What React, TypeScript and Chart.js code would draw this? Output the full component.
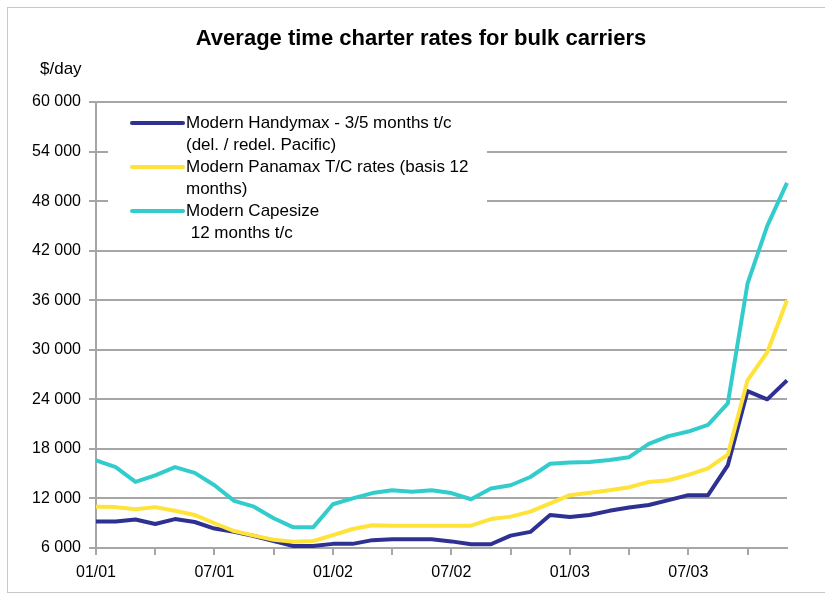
import { useEffect, useRef } from 'react';
import { Chart, registerables } from 'chart.js';

Chart.register(...registerables);

// Monthly observations, January 2001 to December 2003 (MM/YY)
const months = [
  '01/01', '02/01', '03/01', '04/01', '05/01', '06/01', '07/01', '08/01', '09/01', '10/01', '11/01', '12/01',
  '01/02', '02/02', '03/02', '04/02', '05/02', '06/02', '07/02', '08/02', '09/02', '10/02', '11/02', '12/02',
  '01/03', '02/03', '03/03', '04/03', '05/03', '06/03', '07/03', '08/03', '09/03', '10/03', '11/03', '12/03',
];

// $/day
const handymax = [
  9200, 9200, 9450, 8900, 9500, 9150, 8350, 7950, 7450, 6850, 6250, 6250,
  6500, 6500, 6950, 7050, 7050, 7050, 6800, 6450, 6450, 7500, 7950, 10000,
  9750, 10000, 10500, 10900, 11200, 11800, 12400, 12400, 16000, 25000, 24000, 26300,
];

const panamax = [
  11000, 10950, 10700, 10950, 10500, 10000, 9000, 8050, 7500, 7000, 6750, 6850,
  7550, 8300, 8750, 8700, 8700, 8700, 8700, 8700, 9500, 9800, 10400, 11400,
  12400, 12700, 13000, 13350, 14000, 14200, 14850, 15650, 17300, 26300, 29700, 36000,
];

const capesize = [
  16600, 15800, 14000, 14800, 15800, 15100, 13600, 11700, 11000, 9600, 8500, 8500,
  11300, 12000, 12650, 13000, 12800, 13000, 12650, 11900, 13200, 13600, 14600, 16200,
  16350, 16400, 16650, 17000, 18600, 19550, 20100, 20900, 23500, 38000, 45000, 50200,
];

const seriesNames = [
  ['Modern Handymax - 3/5 months t/c', '(del. / redel. Pacific)'],
  ['Modern Panamax T/C rates (basis 12', 'months)'],
  ['Modern Capesize', ' 12 months t/c'],
];
const seriesColors = ['#2f3192', '#ffe33a', '#33cccc'];

const chartTitle = 'Average time charter rates for bulk carriers';
const unitLabel = '$/day';

const FONT = 'Arial, "Liberation Sans", sans-serif';
const GRID = '#a6a6a6';

const formatThousands = (v: number) => String(v).replace(/\B(?=(\d{3})+(?!\d))/g, ' ');

// Title, unit caption and the boxed multi-line legend
const decorPlugin = {
  id: 'decor',
  afterDraw(chart: Chart) {
    const ctx = chart.ctx;
    ctx.save();
    ctx.fillStyle = '#000';
    ctx.textBaseline = 'middle';

    ctx.font = `bold 22px ${FONT}`;
    ctx.textAlign = 'center';
    ctx.fillText(chartTitle, 421, 39);

    ctx.font = `17px ${FONT}`;
    ctx.textAlign = 'left';
    ctx.fillText(unitLabel, 40, 69);

    // legend box
    ctx.fillStyle = '#fff';
    ctx.fillRect(108, 105, 379, 141);

    const lineH = 22;
    let row = 0;
    chart.data.datasets.forEach((ds, i) => {
      const y0 = 123 + row * lineH;
      ctx.strokeStyle = ds.borderColor as string;
      ctx.lineWidth = 4;
      ctx.lineCap = 'round';
      ctx.beginPath();
      ctx.moveTo(132, y0);
      ctx.lineTo(183, y0);
      ctx.stroke();
      ctx.fillStyle = '#000';
      ctx.font = `17px ${FONT}`;
      seriesNames[i].forEach((t, j) => {
        ctx.fillText(t, 186, y0 + j * lineH);
      });
      row += seriesNames[i].length;
    });
    ctx.restore();
  },
};

export default function App() {
  const ref = useRef<HTMLCanvasElement>(null);

  useEffect(() => {
    if (!ref.current) return;
    const series = [handymax, panamax, capesize];
    const drawOrder = [3, 1, 2];
    const chart = new Chart(ref.current, {
      type: 'line',
      data: {
        labels: months,
        datasets: series.map((values, i) => ({
          label: seriesNames[i].join(' '),
          data: values,
          borderColor: seriesColors[i],
          backgroundColor: seriesColors[i],
          borderWidth: 4,
          pointRadius: 0,
          tension: 0,
          borderJoinStyle: 'round' as const,
          order: drawOrder[i],
        })),
      },
      options: {
        animation: false,
        responsive: false,
        events: [],
        layout: { padding: { left: 0, right: 38, top: 102, bottom: 0 } },
        plugins: {
          legend: { display: false },
          title: { display: false },
          tooltip: { enabled: false },
        },
        scales: {
          x: {
            type: 'category',
            offset: false,
            afterFit: (scale: any) => {
              scale.height = 48;
            },
            grid: {
              drawOnChartArea: false,
              drawTicks: true,
              tickLength: 7,
              lineWidth: 2,
              color: (c: any) => (c.index % 3 === 0 ? GRID : 'rgba(0,0,0,0)'),
              tickColor: (c: any) => (c.index % 3 === 0 ? GRID : 'rgba(0,0,0,0)'),
            },
            border: { display: true, color: GRID, width: 2 },
            ticks: {
              autoSkip: false,
              maxRotation: 0,
              padding: 8,
              color: '#000',
              font: { family: FONT, size: 16 },
              callback: (_v: any, i: number) => (i % 6 === 0 ? months[i] : ''),
            },
          },
          y: {
            min: 6000,
            max: 60000,
            afterFit: (scale: any) => {
              scale.width = 96;
            },
            grid: {
              drawOnChartArea: true,
              drawTicks: true,
              tickLength: 7,
              lineWidth: 2,
              color: GRID,
              tickColor: GRID,
            },
            border: { display: true, color: GRID, width: 2 },
            ticks: {
              stepSize: 6000,
              padding: 8,
              color: '#000',
              font: { family: FONT, size: 16 },
              callback: (v: any) => formatThousands(Number(v)),
            },
          },
        },
      },
      plugins: [decorPlugin],
    });
    return () => chart.destroy();
  }, []);

  return (
    <div style={{ position: 'fixed', left: 0, top: 0, width: 825, height: 596, overflow: 'hidden', background: '#fff' }}>
      <div
        style={{
          position: 'absolute',
          left: 7,
          top: 7,
          width: 830,
          height: 586,
          border: '1px solid #c8c8c8',
          boxSizing: 'border-box',
        }}
      />
      <canvas ref={ref} width={825} height={596} style={{ position: 'absolute', left: 0, top: 0 }} />
    </div>
  );
}
